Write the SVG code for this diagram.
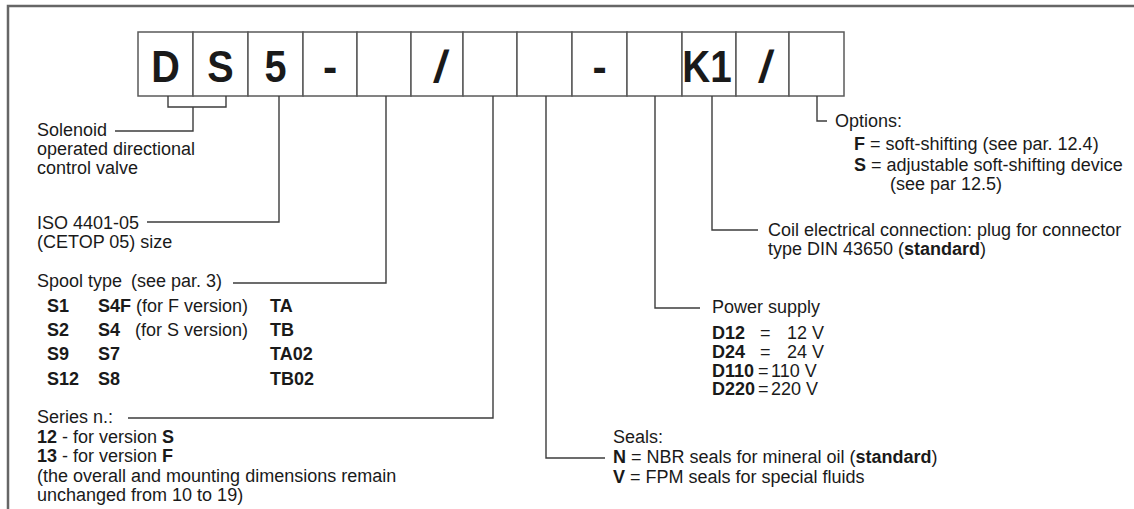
<svg xmlns="http://www.w3.org/2000/svg" width="1134" height="509" viewBox="0 0 1134 509">
<style>
  text { font-family: "Liberation Sans", Arial, sans-serif; fill: #1a1a1a; }
  .lbl { font-size: 18px; }
  .b { font-weight: bold; }
  .code { font-size: 45px; font-weight: bold; text-anchor: middle; }
  .cell { fill: #fff; stroke: #5a5a5a; stroke-width: 1.5; }
  .conn { fill: none; stroke: #3c3c3c; stroke-width: 1.4; }
  .frame { fill: none; stroke: #666; stroke-width: 2.5; }
</style>
<rect width="1134" height="509" fill="#fff"/>
<path class="frame" d="M8,509 V6 H1134"/>

<g id="code">
  <g id="cell-D"><rect class="cell" x="138" y="32" width="55" height="64"/><text class="code" transform="translate(165.5,82) scale(0.88,1)">D</text></g>
  <g id="cell-S"><rect class="cell" x="193" y="32" width="55" height="64"/><text class="code" transform="translate(220.5,82) scale(0.88,1)">S</text></g>
  <g id="cell-5"><rect class="cell" x="248" y="32" width="55" height="64"/><text class="code" transform="translate(275.5,82) scale(0.88,1)">5</text></g>
  <g id="cell-dash1"><rect class="cell" x="303" y="32" width="54" height="64"/><text class="code" transform="translate(330,82) scale(0.95,1)">-</text></g>
  <g id="cell-spool"><rect class="cell" x="357" y="32" width="54" height="64"/></g>
  <g id="cell-slash1"><rect class="cell" x="411" y="32" width="52" height="64"/><text class="code" transform="translate(439,82) skewX(-8)">/</text></g>
  <g id="cell-series"><rect class="cell" x="463" y="32" width="54" height="64"/></g>
  <g id="cell-seals"><rect class="cell" x="517" y="32" width="55" height="64"/></g>
  <g id="cell-dash2"><rect class="cell" x="572" y="32" width="55" height="64"/><text class="code" transform="translate(599.5,82) scale(0.95,1)">-</text></g>
  <g id="cell-power"><rect class="cell" x="627" y="32" width="55" height="64"/></g>
  <g id="cell-K1"><rect class="cell" x="682" y="32" width="54" height="64"/><text class="code" transform="translate(707,82) scale(0.86,1)">K1</text></g>
  <g id="cell-slash2"><rect class="cell" x="736" y="32" width="53" height="64"/><text class="code" transform="translate(764,82) skewX(-8)">/</text></g>
  <g id="cell-options"><rect class="cell" x="789" y="32" width="55" height="64"/></g>
</g>

<g id="connectors">
  <path class="conn" d="M168,96 V107 H226 V96"/>
  <path class="conn" d="M193,107 V131 H115"/>
  <path class="conn" d="M279,96 V222 H147"/>
  <path class="conn" d="M386,96 V283 H233"/>
  <path class="conn" d="M493,96 V418 H128"/>
  <path class="conn" d="M546,96 V458 H605"/>
  <path class="conn" d="M655,96 V308 H700"/>
  <path class="conn" d="M712,96 V230 H758"/>
  <path class="conn" d="M817,96 V121 H827"/>
</g>

<g id="label-solenoid">
  <text class="lbl" x="37" y="136">Solenoid</text>
  <text class="lbl" x="37" y="155">operated directional</text>
  <text class="lbl" x="37" y="174">control valve</text>
</g>

<g id="label-size">
  <text class="lbl" x="37" y="229">ISO 4401-05</text>
  <text class="lbl" x="37" y="248">(CETOP 05) size</text>
</g>

<g id="label-spool">
  <text class="lbl" x="37" y="287">Spool type<tspan x="131">(see par. 3)</tspan></text>
  <text class="lbl" y="312"><tspan class="b" x="47">S1</tspan><tspan class="b" x="98">S4F</tspan><tspan x="136">(for F version)</tspan><tspan class="b" x="270">TA</tspan></text>
  <text class="lbl" y="336"><tspan class="b" x="47">S2</tspan><tspan class="b" x="98">S4</tspan><tspan x="135">(for S version)</tspan><tspan class="b" x="270">TB</tspan></text>
  <text class="lbl" y="360"><tspan class="b" x="47">S9</tspan><tspan class="b" x="98">S7</tspan><tspan class="b" x="270">TA02</tspan></text>
  <text class="lbl" y="385"><tspan class="b" x="47">S12</tspan><tspan class="b" x="98">S8</tspan><tspan class="b" x="270">TB02</tspan></text>
</g>

<g id="label-series">
  <text class="lbl" x="37" y="423">Series n.:</text>
  <text class="lbl" x="37" y="442.5"><tspan class="b">12</tspan> - for version <tspan class="b">S</tspan></text>
  <text class="lbl" x="37" y="462"><tspan class="b">13</tspan> - for version <tspan class="b">F</tspan></text>
  <text class="lbl" x="37" y="481.5">(the overall and mounting dimensions remain</text>
  <text class="lbl" x="37" y="501">unchanged from 10 to 19)</text>
</g>

<g id="label-seals">
  <text class="lbl" x="613" y="443">Seals:</text>
  <text class="lbl" x="613" y="463"><tspan class="b">N</tspan> = NBR seals for mineral oil (<tspan class="b">standard</tspan>)</text>
  <text class="lbl" x="613" y="483"><tspan class="b">V</tspan> = FPM seals for special fluids</text>
</g>

<g id="label-power">
  <text class="lbl" x="712" y="313">Power supply</text>
  <text class="lbl" y="339"><tspan class="b" x="712">D12</tspan><tspan x="760">=</tspan><tspan x="787">12 V</tspan></text>
  <text class="lbl" y="358"><tspan class="b" x="712">D24</tspan><tspan x="760">=</tspan><tspan x="787">24 V</tspan></text>
  <text class="lbl" y="377"><tspan class="b" x="712">D110</tspan><tspan x="758">=</tspan><tspan x="771">110 V</tspan></text>
  <text class="lbl" y="395"><tspan class="b" x="712">D220</tspan><tspan x="758">=</tspan><tspan x="771">220 V</tspan></text>
</g>

<g id="label-coil">
  <text class="lbl" x="768" y="236">Coil electrical connection: plug for connector</text>
  <text class="lbl" x="768" y="255">type DIN 43650 (<tspan class="b">standard</tspan>)</text>
</g>

<g id="label-options">
  <text class="lbl" x="835" y="127">Options:</text>
  <text class="lbl" x="854" y="150"><tspan class="b">F</tspan> = soft-shifting (see par. 12.4)</text>
  <text class="lbl" x="854" y="171"><tspan class="b">S</tspan> = adjustable soft-shifting device</text>
  <text class="lbl" x="890" y="190">(see par 12.5)</text>
</g>
</svg>
